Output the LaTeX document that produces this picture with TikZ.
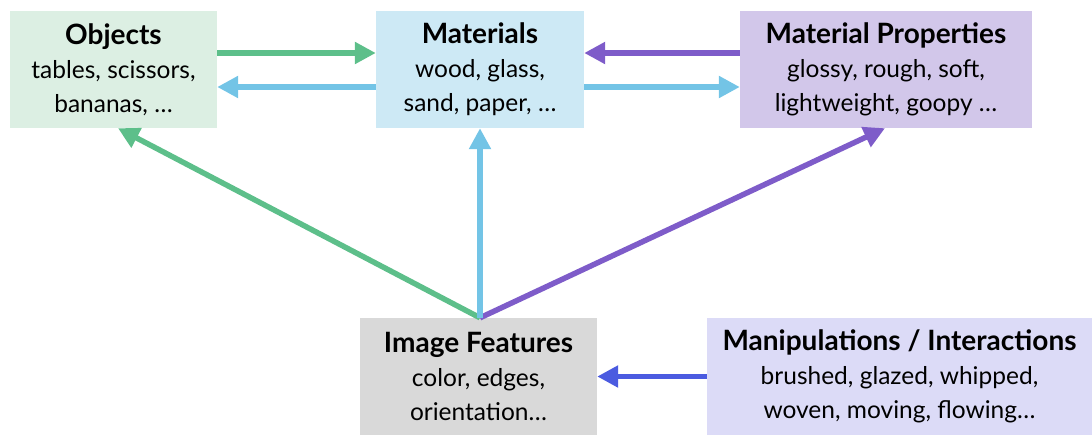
\documentclass[tikz,border=0pt]{standalone}
\usepackage{fontspec}
\setmainfont{Lato}
\usepackage{xcolor}
\usepackage{tikz}
\usetikzlibrary{arrows.meta}

\definecolor{objfill}{HTML}{DCEFE3}
\definecolor{matfill}{HTML}{CDE9F5}
\definecolor{propfill}{HTML}{D2C7EA}
\definecolor{featfill}{HTML}{D9D9D9}
\definecolor{manipfill}{HTML}{DCDBF7}
\definecolor{objline}{HTML}{5DBF8A}
\definecolor{matline}{HTML}{73C4E6}
\definecolor{propline}{HTML}{7E5CC9}
\definecolor{manipline}{HTML}{4B5BE0}

\tikzset{
    box/.style={rectangle, inner sep=0pt, align=center, minimum height=117pt,
        font=\fontsize{24.5}{34}\selectfont},
    link/.style={line width=5.5pt, -{Triangle[length=21pt, width=21pt]}},
}
\newcommand{\boxtitle}[1]{{\fontsize{28}{34}\selectfont\bfseries #1}}

\begin{document}
\begin{tikzpicture}[x=1pt, y=-1pt]
    \useasboundingbox (0,0) rectangle (1092,434);

    \node[box, fill=objfill, minimum width=207pt] (obj) at (113.5,69.5)
        {\boxtitle{Objects}\\tables, scissors,\\bananas, \dots};
    \node[box, fill=matfill, minimum width=208pt] (mat) at (480,69.5)
        {\boxtitle{Materials}\\wood, glass,\\sand, paper, \dots};
    \node[box, fill=propfill, minimum width=292pt] (prop) at (886,69.5)
        {\boxtitle{Material Properties}\\glossy, rough, soft,\\lightweight, goopy \dots};
    \node[box, fill=featfill, minimum width=237pt] (feat) at (478.5,376.5)
        {\boxtitle{Image Features}\\color, edges,\\orientation\dots};
    \node[box, fill=manipfill, minimum width=385pt] (manip) at (899.5,376.5)
        {\boxtitle{Manipulations / Interactions}\\brushed, glazed, whipped,\\woven, moving, flowing\dots};

    % top row
    \draw[link, objline] ([yshift=16.5pt]obj.east) -- ([yshift=16.5pt]mat.west);
    \draw[link, matline] ([yshift=-17.5pt]mat.west) -- ([yshift=-17.5pt]obj.east);
    \draw[link, propline] ([yshift=16.5pt]prop.west) -- ([yshift=16.5pt]mat.east);
    \draw[link, matline] ([yshift=-17.5pt]mat.east) -- ([yshift=-17.5pt]prop.west);

    % from the features up
    \draw[link, objline] ([xshift=1.5pt]feat.north) -- ([xshift=4.5pt]obj.south);
    \draw[link, propline] ([xshift=1.5pt]feat.north) -- ([xshift=-1pt]prop.south);
    \draw[link, matline] ([xshift=1.5pt]feat.north) -- (mat.south);

    \draw[link, manipline] (manip.west) -- (feat.east);
\end{tikzpicture}
\end{document}
